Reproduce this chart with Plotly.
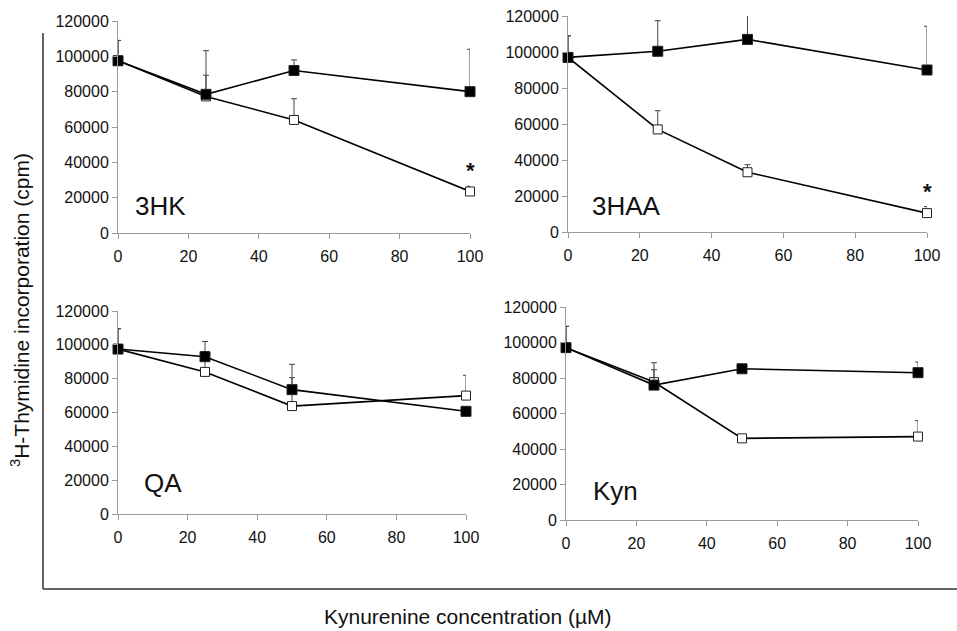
import plotly.graph_objects as go

conc = [0, 25, 50, 100]
panels = ["3HK", "3HAA", "QA", "Kyn"]

# filled squares
filled_vals = {
    "3HK": [97500, 78500, 92000, 80000],
    "3HAA": [97000, 100400, 107000, 90000],
    "QA": [97500, 93000, 73500, 60700],
    "Kyn": [97100, 76000, 85200, 83000],
}
filled_err = {
    "3HK": [11500, 24700, 6000, 24000],
    "3HAA": [12000, 17000, 15000, 24300],
    "QA": [12000, 9000, 15000, 0],
    "Kyn": [12000, 12600, 0, 6000],
}
# open squares
open_vals = {
    "3HK": [97500, 77300, 64000, 23500],
    "3HAA": [97000, 57000, 33200, 10500],
    "QA": [97500, 84000, 63800, 70000],
    "Kyn": [97100, 77700, 46000, 47000],
}
open_err = {
    "3HK": [11500, 12000, 12000, 3000],
    "3HAA": [12000, 10400, 4200, 3600],
    "QA": [12000, 12000, 16800, 12000],
    "Kyn": [12000, 7000, 0, 9000],
}
significant = {"3HK": [100], "3HAA": [100], "QA": [], "Kyn": []}

y_ticks = [0, 20000, 40000, 60000, 80000, 100000, 120000]
x_ticks = [0, 20, 40, 60, 80, 100]

W, H = 957, 631
# plot boxes in pixels (left, right, top, bottom)
boxes = {
    "3HK": (118, 470, 21, 233),
    "3HAA": (568, 927, 16, 232),
    "QA": (118, 466, 311, 514),
    "Kyn": (566, 918, 307, 520),
}
label_pos = {"3HK": (0.043, 0.127), "3HAA": (0.061, 0.12), "QA": (0.069, 0.155), "Kyn": (0.07, 0.137)}

FONT = "Liberation Sans, Arial, sans-serif"
fig = go.Figure()
annotations = []

for i, name in enumerate(panels):
    k = "" if i == 0 else str(i + 1)
    xa, ya = "x" + k, "y" + k
    l, r, t, b = boxes[name]
    axis_common = dict(showgrid=False, zeroline=False, showline=True, linecolor="#9a9a9a",
                       linewidth=1, ticks="outside", ticklen=5, tickcolor="#9a9a9a",
                       automargin=False,
                       tickfont=dict(family=FONT, size=16, color="#111"))
    fig.update_layout(**{
        "xaxis" + k: dict(domain=[l / W, r / W], range=[0, 100], tickvals=x_ticks,
                          anchor=ya, ticklabelstandoff=4, **axis_common),
        "yaxis" + k: dict(domain=[1 - b / H, 1 - t / H], range=[0, 120000], tickvals=y_ticks,
                          ticktext=[str(v) for v in y_ticks], anchor=xa, **axis_common),
    })
    for vals, errs, fill in [(open_vals[name], open_err[name], "white"),
                             (filled_vals[name], filled_err[name], "black")]:
        fig.add_trace(go.Scatter(
            x=conc, y=vals, xaxis=xa, yaxis=ya, mode="lines+markers",
            line=dict(color="black", width=1.6),
            marker=dict(symbol="square", size=10 if fill == "black" else 9, color=fill,
                        line=dict(color="#222", width=1)),
            error_y=dict(type="data", array=errs, arrayminus=[0] * len(errs),
                         symmetric=False, color="#444", thickness=1, width=3),
            cliponaxis=False, showlegend=False))
    for xs in significant[name]:
        idx = conc.index(xs)
        annotations.append(dict(x=xs, y=open_vals[name][idx] + open_err[name][idx],
                                xref=xa, yref=ya, text="<b>*</b>", showarrow=False,
                                yanchor="bottom", yshift=1,
                                font=dict(family=FONT, size=22, color="#111")))
    lx, ly = label_pos[name]
    annotations.append(dict(x=lx, y=ly, xref=xa + " domain", yref=ya + " domain", text=name,
                            showarrow=False, xanchor="left", yanchor="middle",
                            font=dict(family=FONT, size=26, color="#111")))

annotations.append(dict(x=20 / W, y=1 - 310 / H, xref="paper", yref="paper",
                        xanchor="center", yanchor="middle",
                        text="<sup>3</sup>H-Thymidine incorporation (cpm)", textangle=-90,
                        showarrow=False, font=dict(family=FONT, size=21, color="#111")))
annotations.append(dict(x=468 / W, y=1 - 616 / H, xref="paper", yref="paper",
                        xanchor="center", yanchor="middle",
                        text="Kynurenine concentration (µM)",
                        showarrow=False, font=dict(family=FONT, size=21, color="#111")))

shapes = [
    dict(type="line", xref="paper", yref="paper", x0=43 / W, x1=43 / W, y0=1 - 33 / H, y1=1 - 589 / H,
         line=dict(color="#333", width=1.5)),
    dict(type="line", xref="paper", yref="paper", x0=43 / W, x1=1, y0=1 - 589 / H, y1=1 - 589 / H,
         line=dict(color="#333", width=1.5)),
]

fig.update_layout(width=W, height=H, margin=dict(l=0, r=0, t=0, b=0, autoexpand=False),
                  paper_bgcolor="white", plot_bgcolor="white",
                  annotations=annotations, shapes=shapes)
fig.write_html("out.html", config={"displayModeBar": False},
               post_script="document.body.style.margin='0px';document.body.style.overflow='hidden';")
